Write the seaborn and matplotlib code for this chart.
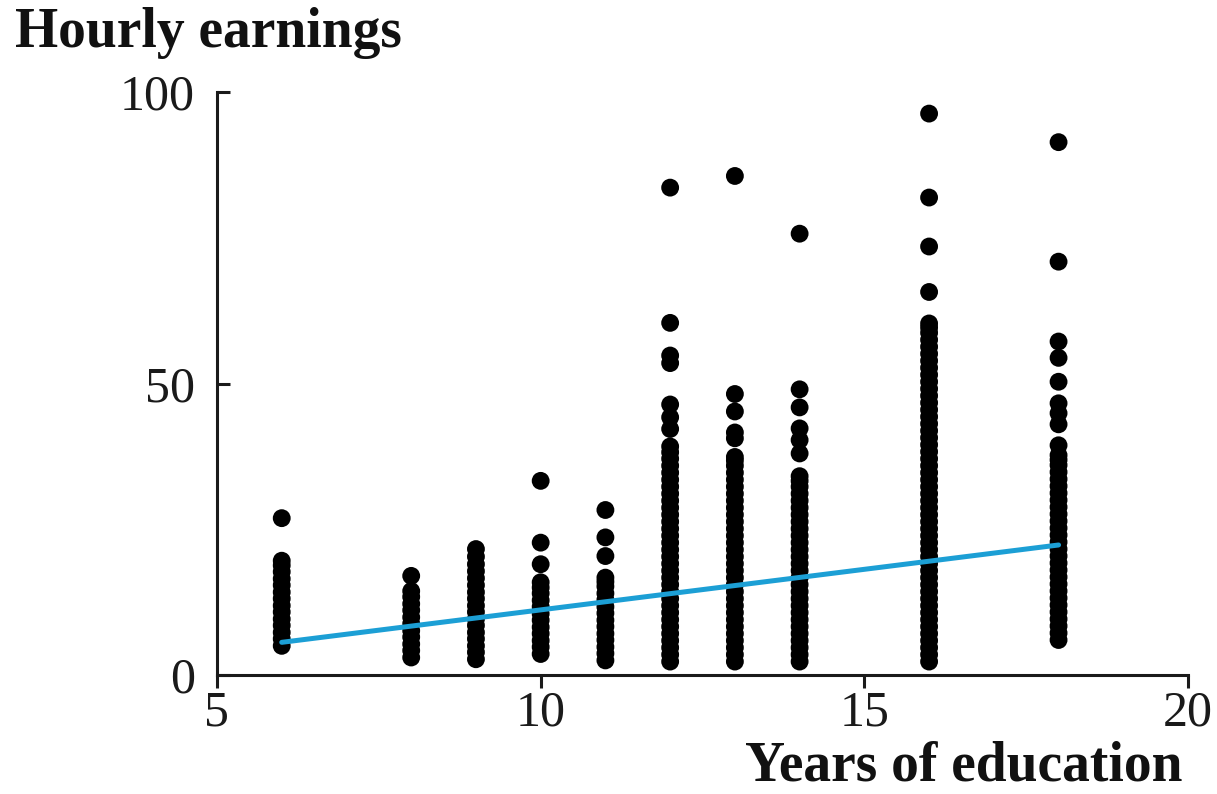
import matplotlib
matplotlib.use("Agg")
import matplotlib.pyplot as plt
import seaborn as sns
import pandas as pd

# Hourly earnings observed at each level of schooling
earn_6 = [5.0, 6.2, 7.3, 8.5, 9.6, 10.8, 11.9, 13.1, 14.2, 15.4, 16.5, 17.7, 18.8, 19.6, 26.9]
earn_8 = [3.0, 4.2, 5.3, 6.5, 7.6, 8.8, 9.9, 11.1, 12.2, 13.4, 14.4, 17.0]
earn_9 = [2.7, 3.9, 5.0, 6.2, 7.3, 8.5, 9.6, 10.8, 11.9, 13.1, 14.2, 15.4, 16.6, 17.8,
          19.0, 20.3, 21.6]
earn_10 = [3.6, 4.8, 5.9, 7.1, 8.2, 9.4, 10.5, 11.7, 12.8, 14.0, 15.0, 15.9, 19.0, 22.7, 33.3]
earn_11 = [2.5, 3.7, 4.8, 6.0, 7.1, 8.3, 9.4, 10.6, 11.7, 12.9, 14.0, 15.2, 16.0, 16.7,
           20.4, 23.6, 28.3]
earn_12 = [2.3, 3.5, 4.7, 5.9, 7.1, 8.3, 9.5, 10.7, 11.9, 13.1, 14.3, 15.5, 16.7, 17.9,
           19.1, 20.3, 21.5, 22.7, 23.9, 25.1, 26.3, 27.5, 28.7, 29.9, 31.1, 32.3, 33.5,
           34.7, 35.9, 37.1, 38.2, 39.2, 42.2, 44.2, 46.4, 53.5, 54.8, 60.4, 83.6]
earn_13 = [2.3, 3.5, 4.7, 5.9, 7.1, 8.3, 9.5, 10.7, 11.9, 13.1, 14.3, 15.5, 16.7, 17.9,
           19.1, 20.3, 21.5, 22.7, 23.9, 25.1, 26.3, 27.5, 28.7, 29.9, 31.1, 32.3, 33.5,
           34.7, 35.9, 36.8, 37.4, 40.6, 41.6, 45.2, 48.2, 85.6]
earn_14 = [2.3, 3.5, 4.7, 5.9, 7.1, 8.3, 9.5, 10.7, 11.9, 13.1, 14.3, 15.5, 16.7, 17.9,
           19.1, 20.3, 21.5, 22.7, 23.9, 25.1, 26.3, 27.5, 28.7, 29.9, 31.1, 32.3, 33.3,
           34.1, 38.0, 40.3, 42.3, 45.9, 49.0, 75.7]
earn_16 = [2.3, 3.5, 4.7, 5.9, 7.1, 8.3, 9.5, 10.7, 11.9, 13.1, 14.3, 15.5, 16.7, 17.9,
           19.1, 20.3, 21.5, 22.7, 23.9, 25.1, 26.3, 27.5, 28.7, 29.9, 31.1, 32.3, 33.5,
           34.7, 35.9, 37.1, 38.3, 39.5, 40.7, 41.9, 43.1, 44.3, 45.5, 46.7, 47.9, 49.1,
           50.3, 51.5, 52.7, 53.9, 55.1, 56.3, 57.5, 58.7, 59.6, 60.3, 65.7, 73.5, 81.9, 96.3]
earn_18 = [6.0, 7.2, 8.4, 9.6, 10.8, 12.0, 13.2, 14.4, 15.6, 16.8, 18.0, 19.2, 20.4, 21.6,
           22.8, 24.0, 25.2, 26.4, 27.6, 28.8, 30.0, 31.2, 32.4, 33.6, 34.8, 36.0, 36.9,
           37.7, 39.4, 43.0, 44.9, 46.6, 50.3, 54.4, 57.2, 70.9, 91.4]

years = [6, 8, 9, 10, 11, 12, 13, 14, 16, 18]
earnings = [earn_6, earn_8, earn_9, earn_10, earn_11, earn_12, earn_13, earn_14, earn_16, earn_18]

# Fitted regression line, evaluated at the ends of the data range
fit_x = [6, 18]
fit_y = [5.6, 22.3]

x_ticks = [5, 10, 15, 20]
y_ticks = [0, 50, 100]

df = pd.DataFrame({
    "years": [y for y, vals in zip(years, earnings) for _ in vals],
    "earnings": [v for vals in earnings for v in vals],
})
fit = pd.DataFrame({"years": fit_x, "earnings": fit_y})

sns.set_theme(style="ticks")
plt.rcParams["font.family"] = ["Liberation Serif", "DejaVu Serif"]

fig = plt.figure(figsize=(12.17, 7.94), dpi=100)
ax = fig.add_axes([0.1783, 0.1499, 0.7979, 0.7342])

sns.scatterplot(data=df, x="years", y="earnings", color="black", s=165,
                linewidth=0, edgecolor="none", ax=ax, zorder=2)
sns.lineplot(data=fit, x="years", y="earnings", color="#1c9fd5", linewidth=3.6,
             ax=ax, zorder=3)

ax.set_xlim(5, 20)
ax.set_ylim(0, 100)
ax.set_xticks(x_ticks)
ax.set_yticks(y_ticks)
ax.set_xticklabels([str(t) for t in x_ticks])
ax.set_yticklabels([str(t) for t in y_ticks])

sns.despine(ax=ax)
for side in ("left", "bottom"):
    ax.spines[side].set_linewidth(2.2)
    ax.spines[side].set_color("#1a1a1a")
    ax.spines[side].set_capstyle("projecting")

ax.tick_params(axis="x", direction="out", length=9, width=2.2, color="#1a1a1a",
               labelsize=36, pad=2, labelcolor="#1a1a1a")
ax.tick_params(axis="y", direction="in", length=9, width=2.2, color="#1a1a1a",
               labelsize=36, pad=16, labelcolor="#1a1a1a")
ax.set_xlabel("")
ax.set_ylabel("")
ax.set_facecolor("white")
fig.patch.set_facecolor("white")

fig.text(0.0123, 0.9408, "Hourly earnings", fontsize=40, fontweight="bold",
         ha="left", va="baseline", color="#111111")
fig.text(0.972, 0.0165, "Years of education", fontsize=40, fontweight="bold",
         ha="right", va="baseline", color="#111111")

fig.savefig("out.png", dpi=100, facecolor="white")
